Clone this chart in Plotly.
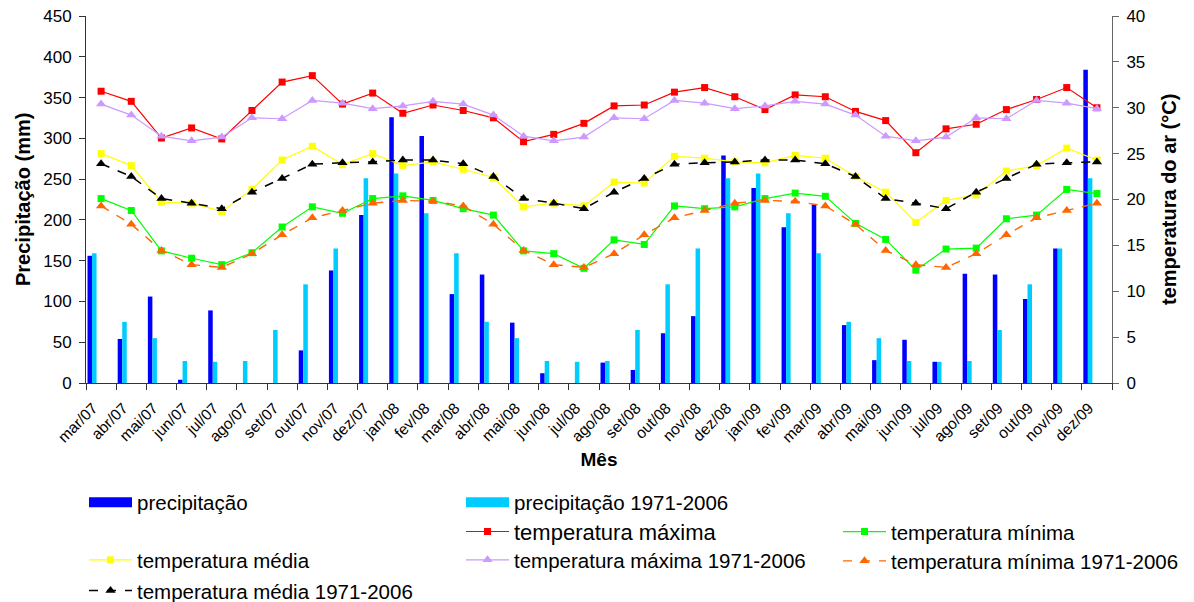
import plotly.graph_objects as go

months = ["mar/07", "abr/07", "mai/07", "jun/07", "jul/07", "ago/07", "set/07", "out/07", "nov/07", "dez/07",
          "jan/08", "fev/08", "mar/08", "abr/08", "mai/08", "jun/08", "jul/08", "ago/08", "set/08", "out/08", "nov/08", "dez/08",
          "jan/09", "fev/09", "mar/09", "abr/09", "mai/09", "jun/09", "jul/09", "ago/09", "set/09", "out/09", "nov/09", "dez/09"]

precipitacao = [156, 54, 106, 4, 89, 0, 0, 40, 138, 206,
                326, 303, 109, 133, 74, 12, 0, 25, 16, 61, 82, 279,
                239, 191, 219, 71, 28, 53, 26, 134, 133, 103, 165, 384]

precipitacao_normal = [159, 75, 55, 27, 26, 27, 65, 121, 165, 251,
                       257, 208, 159, 75, 55, 27, 26, 27, 65, 121, 165, 251,
                       257, 208, 159, 75, 55, 27, 26, 27, 65, 121, 165, 251]

t_max = [31.8, 30.7, 26.7, 27.8, 26.6, 29.7, 32.8, 33.5, 30.4, 31.6,
         29.4, 30.3, 29.7, 28.9, 26.3, 27.1, 28.3, 30.2, 30.3, 31.7, 32.2, 31.2,
         29.8, 31.4, 31.2, 29.6, 28.6, 25.1, 27.7, 28.2, 29.8, 30.9, 32.2, 30.0]

t_min = [20.1, 18.8, 14.4, 13.6, 12.9, 14.2, 17.0, 19.2, 18.5, 20.1,
         20.4, 19.9, 19.0, 18.3, 14.4, 14.1, 12.5, 15.6, 15.1, 19.3, 19.0, 19.2,
         20.1, 20.7, 20.35, 17.4, 15.65, 12.3, 14.6, 14.7, 17.9, 18.3, 21.1, 20.65]

t_med = [25.0, 23.7, 19.7, 19.6, 18.7, 21.1, 24.3, 25.8, 23.8, 25.0,
         23.7, 24.1, 23.3, 22.4, 19.2, 19.6, 19.3, 21.9, 21.8, 24.7, 24.5, 24.1,
         24.0, 24.8, 24.5, 22.5, 20.8, 17.5, 19.9, 20.5, 23.1, 23.7, 25.6, 24.3]

t_max_normal = [30.4, 29.2, 26.9, 26.4, 26.8, 28.9, 28.8, 30.8, 30.5, 29.9,
                30.2, 30.7, 30.4, 29.2, 26.9, 26.4, 26.8, 28.9, 28.8, 30.8, 30.5, 29.9,
                30.2, 30.7, 30.4, 29.2, 26.9, 26.4, 26.8, 28.9, 28.8, 30.8, 30.5, 29.9]

t_min_normal = [19.3, 17.3, 14.45, 12.9, 12.6, 14.1, 16.15, 18.0, 18.8, 19.6,
                19.9, 19.8, 19.3, 17.3, 14.45, 12.9, 12.6, 14.1, 16.15, 18.0, 18.8, 19.6,
                19.9, 19.8, 19.3, 17.3, 14.45, 12.9, 12.6, 14.1, 16.15, 18.0, 18.8, 19.6]

t_med_normal = [23.9, 22.5, 20.1, 19.6, 19.0, 20.8, 22.3, 23.85, 24.0, 24.1,
                24.3, 24.3, 23.9, 22.5, 20.1, 19.6, 19.0, 20.8, 22.3, 23.85, 24.0, 24.1,
                24.3, 24.3, 23.9, 22.5, 20.1, 19.6, 19.0, 20.8, 22.3, 23.85, 24.0, 24.1]

FONT = "Liberation Sans, Arial, sans-serif"
AXC = "#333333"
AXC2 = "#666666"

# the page body has an 8px margin: figure is sized/placed to compensate
W, H, OFF = 1186, 594, 8

fig = go.Figure()

# bars (left axis)
fig.add_trace(go.Bar(x=months, y=precipitacao, name="precipitação", marker_color="#0000FF",
                     marker_line_width=0, offset=-0.45, width=0.15, showlegend=False))
fig.add_trace(go.Bar(x=months, y=precipitacao_normal, name="precipitação 1971-2006", marker_color="#00CCFF",
                     marker_line_width=0, offset=-0.30, width=0.15, showlegend=False))

# legend stand-ins for bars
fig.add_trace(go.Scatter(x=[None], y=[None], mode="lines", name="precipitação",
                         line=dict(color="#0000FF", width=14), legend="legend"))
fig.add_trace(go.Scatter(x=[None], y=[None], mode="lines", name="precipitação 1971-2006",
                         line=dict(color="#00CCFF", width=14), legend="legend2"))

# lines (right axis)
def line(y, name, color, symbol, size, dash, lg, width=1.2):
    fig.add_trace(go.Scatter(x=months, y=y, name=name, yaxis="y2", mode="lines+markers",
                             line=dict(color=color, width=width, dash=dash),
                             marker=dict(color=color, symbol=symbol, size=size, line=dict(width=0)),
                             legend=lg))

line(t_max, "temperatura máxima", "#FF0000", "square", 7, "solid", "legend3")
line(t_min, "temperatura mínima", "#00FF00", "square", 7, "solid", "legend4")
line(t_med, "temperatura média", "#FFFF00", "square", 7, "solid", "legend5")
line(t_max_normal, "temperatura máxima 1971-2006", "#CC99FF", "triangle-up", 9, "solid", "legend6")
line(t_min_normal, "temperatura mínima 1971-2006", "#FF6600", "triangle-up", 9, "dash", "legend7", 1.4)
line(t_med_normal, "temperatura média 1971-2006", "#000000", "triangle-up", 9, "dash", "legend8", 1.5)

def leg(px, py, size):
    return dict(x=(px - 13) / W, y=1 - (py - OFF) / H, xref="container", yref="container",
                xanchor="left", yanchor="middle", bgcolor="rgba(0,0,0,0)", borderwidth=0,
                itemwidth=43, font=dict(family=FONT, size=size, color="#000000"),
                itemclick=False, itemdoubleclick=False)

L, R, T, B = 86 - OFF, 82, 16 - OFF, 219
plot_w = 1112 - 86

fig.update_layout(
    width=W, height=H,
    margin=dict(l=L, r=R, t=T, b=B, autoexpand=False),
    paper_bgcolor="white", plot_bgcolor="white",
    barmode="overlay",
    font=dict(family=FONT, color="#000000"),
    xaxis=dict(type="category", tickson="boundaries", ticks="outside", ticklen=6, tickcolor=AXC,
               showline=True, linecolor=AXC, linewidth=1, showgrid=False, zeroline=False,
               tickangle=-45, tickfont=dict(size=15.5), range=[-0.5, 33.5],
               ticklabelstandoff=9, ticklabelshift=-8, ticklabeloverflow="allow",
               title=dict(text="Mês", font=dict(size=19, weight="bold"), standoff=8)),
    yaxis=dict(range=[0, 450], dtick=50, ticks="outside", ticklen=6, tickcolor=AXC,
               showline=True, linecolor=AXC, linewidth=1, showgrid=False, zeroline=False,
               tickfont=dict(size=17), ticklabelstandoff=4, ticklabeloverflow="allow"),
    yaxis2=dict(range=[0, 40], dtick=5, overlaying="y", side="right", ticks="outside", ticklen=6,
                tickcolor=AXC2, showline=True, linecolor=AXC2, linewidth=1, showgrid=False, zeroline=False,
                tickfont=dict(size=17), ticklabelstandoff=4, ticklabeloverflow="allow"),
    annotations=[
        dict(text="Precipitação (mm)", xref="paper", yref="paper", x=(22.5 - 86) / plot_w, y=0.5,
             xanchor="center", yanchor="middle", textangle=-90, showarrow=False,
             font=dict(family=FONT, size=20, weight="bold", color="#000000")),
        dict(text="temperatura do ar (°C)", xref="paper", yref="paper", x=(1168.5 - 86) / plot_w, y=0.5,
             xanchor="center", yanchor="middle", textangle=-90, showarrow=False,
             font=dict(family=FONT, size=20, weight="bold", color="#000000")),
    ],
    legend=leg(89, 502.5, 20.5),
    legend2=leg(466, 502.5, 20.5),
    legend3=leg(466, 531.7, 22),
    legend4=leg(843, 531.7, 20.5),
    legend5=leg(89, 560, 20.5),
    legend6=leg(466, 560, 20.5),
    legend7=leg(843, 561, 20.5),
    legend8=leg(89, 590.7, 20.5),
)

fig.write_html("out.html")
